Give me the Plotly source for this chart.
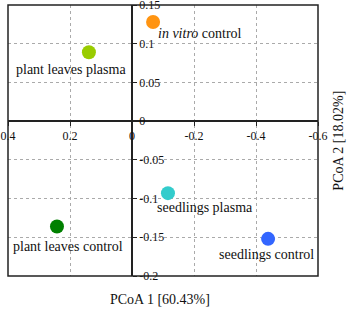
import plotly.graph_objects as go

# ---- data ----
samples = ["in vitro control", "plant leaves plasma", "seedlings plasma",
           "plant leaves control", "seedlings control"]
labels = ["<i>in vitro</i> control", "plant leaves plasma", "seedlings plasma",
          "plant leaves control", "seedlings control"]
pcoa1 = [-0.068, 0.139, -0.116, 0.242, -0.439]
pcoa2 = [0.128, 0.089, -0.093, -0.136, -0.152]
colors = ["#FF9411", "#99CC00", "#33CCCC", "#008000", "#3366FF"]
x_ticks = [0.4, 0.2, 0, -0.2, -0.4, -0.6]
x_tick_text = ["0.4", "0.2", "0", "-0.2", "-0.4", "-0.6"]
y_ticks = [0.15, 0.1, 0.05, 0, -0.05, -0.1, -0.15, -0.2]
y_tick_text = ["0.15", "0.1", "0.05", "0", "-0.05", "-0.1", "-0.15", "-0.2"]

# label offsets in pixels (style)
label_shift = [(47, -11), (-18, -17), (37, -14), (11, -20), (-2, -16)]

FONT = "Liberation Serif"

fig = go.Figure()
fig.add_trace(go.Scatter(
    x=pcoa1, y=pcoa2, mode="markers",
    marker=dict(size=14, color=colors, line=dict(width=0)),
    text=samples, hoverinfo="text", showlegend=False,
))

for i in range(len(samples)):
    dx, dy = label_shift[i]
    fig.add_annotation(x=pcoa1[i], y=pcoa2[i], text=labels[i], showarrow=False,
                       xshift=dx, yshift=dy, xanchor="center", yanchor="middle",
                       font=dict(family=FONT, size=14, color="#111"))

x_range = [0.4, -0.6]
y_range = [-0.2, 0.15]

fig.update_layout(
    width=350, height=309,
    margin=dict(l=8, r=32, t=5, b=33),
    paper_bgcolor="white", plot_bgcolor="white",
    font=dict(family=FONT, size=12, color="#111"),
    xaxis=dict(range=x_range, tickvals=x_ticks, ticktext=x_tick_text,
               anchor="free", position=(0 - y_range[0]) / (y_range[1] - y_range[0]),
               showline=True, linecolor="#222", linewidth=1.5,
               zeroline=False, showgrid=True, gridcolor="#aaaaaa",
               griddash="dot", gridwidth=1,
               ticks="outside", ticklen=4, tickcolor="#222",
               tickfont=dict(family=FONT, size=12, color="#111"),
               ticklabeloverflow="allow",
               automargin=False, domain=[0, 1]),
    yaxis=dict(range=y_range, tickvals=y_ticks, ticktext=y_tick_text,
               anchor="free", position=(x_range[0] - 0) / (x_range[0] - x_range[1]),
               side="right",
               showline=True, linecolor="#222", linewidth=1.5,
               zeroline=False, showgrid=True, gridcolor="#aaaaaa",
               griddash="dot", gridwidth=1,
               ticks="outside", ticklen=4, tickcolor="#222",
               tickfont=dict(family=FONT, size=12, color="#111"),
               ticklabeloverflow="allow",
               automargin=False, domain=[0, 1]),
    shapes=[dict(type="rect", xref="paper", yref="paper", x0=0, x1=1, y0=0, y1=1,
                 line=dict(color="#222", width=1.5), layer="above")],
)

fig.add_annotation(xref="paper", yref="paper", x=0.49, y=-0.088, text="PCoA 1 [60.43%]",
                   showarrow=False, xanchor="center", yanchor="middle",
                   font=dict(family=FONT, size=14, color="#111"))
fig.add_annotation(xref="paper", yref="paper", x=1.065, y=0.50, text="PCoA 2 [18.02%]",
                   showarrow=False, textangle=-90, xanchor="center", yanchor="middle",
                   font=dict(family=FONT, size=14, color="#111"))

fig.write_html("out.html", config={"displayModeBar": False},
               post_script="document.body.style.margin='0';document.body.style.overflow='hidden';")
